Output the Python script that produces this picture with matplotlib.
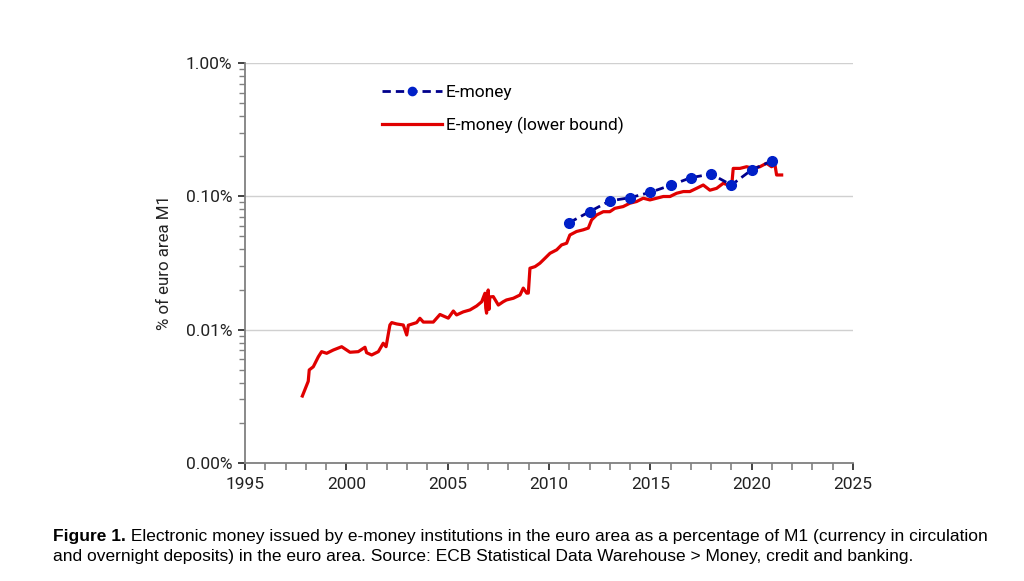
import matplotlib
matplotlib.use("Agg")
import matplotlib.pyplot as plt
from matplotlib.ticker import FuncFormatter, MultipleLocator, LogLocator, NullFormatter

# E-money (annual), % of euro area M1
emoney_years = [2011, 2012, 2013, 2014, 2015, 2016, 2017, 2018, 2019, 2020, 2021]
emoney_vals = [0.0635, 0.0767, 0.0924, 0.0977, 0.1072, 0.121, 0.138, 0.147, 0.1216, 0.158, 0.184]

# E-money (lower bound)
lower_years = [
    1997.83, 1998.12, 1998.17, 1998.37, 1998.62, 1998.78, 1999.03, 1999.36, 1999.77, 2000.18,
    2000.59, 2000.92, 2001.00, 2001.25, 2001.58, 2001.82, 2001.96, 2002.15, 2002.24, 2002.48,
    2002.81, 2002.98, 2003.06, 2003.47, 2003.63, 2003.80, 2004.29, 2004.62, 2005.03, 2005.28,
    2005.44, 2005.77, 2006.10, 2006.43, 2006.68, 2006.84, 2006.88, 2006.92, 2007.00, 2007.04,
    2007.08, 2007.25, 2007.50, 2007.74, 2007.90, 2008.24, 2008.57, 2008.73, 2008.90, 2008.98,
    2009.06, 2009.31, 2009.55, 2009.80, 2010.05, 2010.38, 2010.62, 2010.87, 2011.03, 2011.36,
    2011.69, 2011.94, 2012.10, 2012.35, 2012.68, 2013.00, 2013.25, 2013.66, 2013.99, 2014.32,
    2014.65, 2014.98, 2015.31, 2015.64, 2015.97, 2016.30, 2016.63, 2016.95, 2017.28, 2017.61,
    2017.94, 2018.27, 2018.60, 2018.84, 2019.01, 2019.09, 2019.42, 2019.75, 2020.07, 2020.41,
    2020.73, 2020.98, 2021.15, 2021.23, 2021.48,
]
lower_vals = [
    0.00318, 0.0041, 0.00499, 0.00527, 0.00627, 0.00684, 0.00665, 0.00704, 0.00745, 0.00677,
    0.00684, 0.00738, 0.00672, 0.00646, 0.00684, 0.00791, 0.00745, 0.01084, 0.0113, 0.01104,
    0.01084, 0.00912, 0.0108, 0.0113, 0.01217, 0.0114, 0.0114, 0.0130, 0.0122, 0.0138,
    0.0129, 0.0136, 0.01406, 0.01506, 0.0162, 0.01876, 0.0145, 0.0133, 0.01985, 0.0142,
    0.0176, 0.0177, 0.0153, 0.0162, 0.0167, 0.0172, 0.0182, 0.0205, 0.0188, 0.0188,
    0.0289, 0.0297, 0.0315, 0.0343, 0.0374, 0.0397, 0.0432, 0.0445, 0.0513, 0.0545,
    0.0561, 0.0578, 0.0665, 0.0725, 0.0767, 0.0767, 0.0813, 0.0838, 0.0888, 0.0914,
    0.0968, 0.0940, 0.0968, 0.0997, 0.0997, 0.1055, 0.1086, 0.1086, 0.1148, 0.1216,
    0.1112, 0.1148, 0.1253, 0.1216, 0.1180, 0.1620, 0.1620, 0.1668, 0.1620, 0.1668,
    0.1770, 0.1668, 0.1720, 0.1446, 0.1446,
]

series_labels = ["E-money", "E-money (lower bound)"]
y_label = "% of euro area M1"
caption_bold = "Figure 1."
caption_line1 = " Electronic money issued by e-money institutions in the euro area as a percentage of M1 (currency in circulation"
caption_line2 = "and overnight deposits) in the euro area. Source: ECB Statistical Data Warehouse > Money, credit and banking."

plt.rcParams['font.family'] = ['Roboto', 'DejaVu Sans']

fig = plt.figure(figsize=(10.24, 5.81), dpi=100)
ax = fig.add_axes([245/1024, 1-463/581, (853-245)/1024, (463-63)/581])

ax.plot(emoney_years, emoney_vals, linestyle=(0, (3.0, 1.8)), color='#00008C', linewidth=2.0,
        marker='o', markersize=7, markerfacecolor='#0020C8', markeredgecolor='#0020C8',
        label=series_labels[0], zorder=3)
ax.plot(lower_years, lower_vals, color='#E00000', linewidth=2.3, label=series_labels[1], zorder=2)

ax.set_yscale('log')
ax.set_ylim(0.001, 1.0)
ax.set_xlim(1995, 2025)
ax.xaxis.set_major_locator(MultipleLocator(5))
ax.xaxis.set_minor_locator(MultipleLocator(1))
ax.yaxis.set_major_locator(LogLocator(base=10, numticks=10))
ax.yaxis.set_minor_locator(LogLocator(base=10, subs=range(2, 10), numticks=20))
ax.yaxis.set_minor_formatter(NullFormatter())
ax.yaxis.set_major_formatter(FuncFormatter(lambda v, p: f"{v:.2f}%"))

ax.grid(axis='y', which='major', color='#D0D0D0', linewidth=1.0)
ax.set_axisbelow(True)
for s in ['top', 'right']:
    ax.spines[s].set_visible(False)
for s in ['left', 'bottom']:
    ax.spines[s].set_color('#808080')
    ax.spines[s].set_linewidth(1.3)
ax.tick_params(axis='both', which='both', direction='out', color='#808080')
ax.tick_params(axis='y', which='major', length=5, width=1.2, labelsize=12.5, colors='#222222', pad=4)
ax.tick_params(axis='y', which='minor', length=4, width=1.0, color='#808080')
ax.tick_params(axis='x', which='minor', length=5, width=1.2, color='#808080')
ax.tick_params(axis='x', which='major', length=5, width=1.2, labelsize=12.5, colors='#222222', pad=5)
for t in ax.get_xticklabels() + ax.get_yticklabels():
    t.set_color('#222222')

ax.set_ylabel(y_label, fontsize=12.2, color='#222222')
ax.yaxis.set_label_coords((172-245)/608, 0.5)

leg = ax.legend(loc='upper left', bbox_to_anchor=(0.2, 0.985), frameon=False, fontsize=12.5,
                handlelength=3.45, handletextpad=0.2, labelspacing=1.0, markerscale=0.85)

cap_fam = ['Liberation Sans', 'DejaVu Sans']
cap_fs = 12.5
t1 = fig.text(53/1024, 1-537/581, caption_bold, fontsize=cap_fs, fontweight='bold',
              family=cap_fam, va='center', ha='left')
fig.canvas.draw()
bb = t1.get_window_extent()
fig.text(bb.x1/1024, 1-537/581, caption_line1, fontsize=cap_fs, family=cap_fam,
         va='center', ha='left')
fig.text(53/1024, 1-557/581, caption_line2, fontsize=cap_fs, family=cap_fam,
         va='center', ha='left')

fig.savefig("out.png", dpi=100, facecolor='white')
